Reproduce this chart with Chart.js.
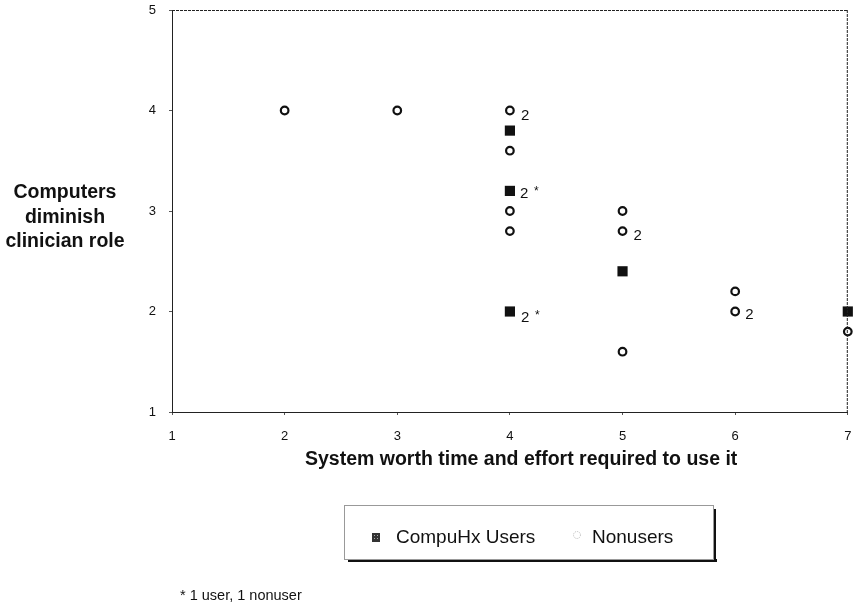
<!DOCTYPE html>
<html>
<head>
<meta charset="utf-8">
<script src="https://cdn.jsdelivr.net/npm/chart.js@4/dist/chart.umd.min.js"></script>
<style>
  html, body { margin: 0; padding: 0; background: #fff; }
  #wrap { position: relative; width: 855px; height: 607px; }
</style>
</head>
<body>
<div id="wrap"><canvas id="chart" width="855" height="607"></canvas></div>
<script>
// x = system worth time and effort, y = computers diminish clinician role
const userX = [4, 4, 4, 5, 7];
const userY = [3.8, 3.2, 2, 2.4, 2];
const nonuserX = [2, 3, 4, 4, 4, 4, 5, 5, 5, 6, 6, 7];
const nonuserY = [4, 4, 4, 3.6, 3, 2.8, 3, 2.8, 1.6, 2.2, 2, 1.8];

// count labels beside some points
const noteX = [4, 4, 4, 5, 6];
const noteY = [4, 3.2, 2, 2.8, 2];
const noteText = ["2", "2 *", "2 *", "2", "2"];

const xTicks = [1, 2, 3, 4, 5, 6, 7];
const yTicks = [1, 2, 3, 4, 5];
const seriesNames = ["CompuHx Users", "Nonusers"];
const yTitle = ["Computers", "diminish", "clinician role"];
const xTitle = "System worth time and effort required to use it";
const footnote = "* 1 user, 1 nonuser";

const FONT = "Arial, 'Liberation Sans', sans-serif";

// little offsets for the count labels (style only)
const noteShift = { "4,4": [11, 5], "4,3.2": [10, 3], "4,2": [11, 6], "5,2.8": [11, 5], "6,2": [10, 3] };

const pts = (xs, ys) => xs.map((x, i) => ({ x: x, y: ys[i] }));

const extras = {
  id: "extras",
  afterDraw(chart) {
    const ctx = chart.ctx;
    const a = chart.chartArea;
    const xs = chart.scales.x, ys = chart.scales.y;
    ctx.save();

    // dotted frame
    ctx.strokeStyle = "#222";
    ctx.lineWidth = 1;
    ctx.setLineDash([3, 1]);
    ctx.beginPath();
    ctx.moveTo(a.left, a.top + 0.5); ctx.lineTo(a.right, a.top + 0.5);
    ctx.moveTo(a.right - 0.5, a.top); ctx.lineTo(a.right - 0.5, a.bottom);
    ctx.stroke();
    ctx.setLineDash([]);

    // count labels
    ctx.fillStyle = "#111";
    ctx.textBaseline = "middle";
    ctx.textAlign = "left";
    noteText.forEach((t, i) => {
      const sh = noteShift[noteX[i] + "," + noteY[i]] || [10, 4];
      const px = xs.getPixelForValue(noteX[i]) + sh[0];
      const py = ys.getPixelForValue(noteY[i]) + sh[1];
      ctx.font = "15px " + FONT;
      ctx.fillText("2", px, py);
      if (t.indexOf("*") >= 0) {
        ctx.font = "12px " + FONT;
        ctx.fillText("*", px + 14, py - 2);
      }
    });

    // x title
    ctx.font = "bold 19.5px " + FONT;
    ctx.textAlign = "left";
    ctx.fillText(xTitle, 305, 460);

    // y title, horizontal
    ctx.font = "bold 19.5px " + FONT;
    ctx.textAlign = "center";
    yTitle.forEach((s, i) => ctx.fillText(s, 65, 193 + i * 24.5));

    // legend box
    const bx = 344, by = 505, bw = 369, bh = 54;
    ctx.fillStyle = "#111";
    ctx.fillRect(bx + 4, by + bh, bw, 3);
    ctx.fillRect(bx + bw, by + 4, 3, bh - 1);
    ctx.fillStyle = "#fff";
    ctx.fillRect(bx, by, bw, bh);
    ctx.strokeStyle = "#999";
    ctx.lineWidth = 1;
    ctx.strokeRect(bx + 0.5, by + 0.5, bw, bh);

    // legend markers
    ctx.fillStyle = "#333";
    ctx.fillRect(372, 533, 8, 9);
    ctx.fillStyle = "#aaa";
    ctx.fillRect(374, 535, 1, 1); ctx.fillRect(377, 535, 1, 1);
    ctx.fillRect(374, 538, 1, 1); ctx.fillRect(377, 538, 1, 1);
    ctx.strokeStyle = "#bbb";
    ctx.setLineDash([1, 1]);
    ctx.beginPath(); ctx.arc(577, 535, 3.5, 0, Math.PI * 2); ctx.stroke();
    ctx.setLineDash([]);

    ctx.fillStyle = "#111";
    ctx.font = "19px " + FONT;
    ctx.textAlign = "left";
    ctx.fillText(seriesNames[0], 396, 538);
    ctx.fillText(seriesNames[1], 592, 538);

    // footnote
    ctx.font = "14.5px " + FONT;
    ctx.fillText(footnote, 180, 596);
    ctx.restore();
  }
};

new Chart(document.getElementById("chart"), {
  type: "scatter",
  data: {
    datasets: [
      {
        label: seriesNames[1],
        data: pts(nonuserX, nonuserY),
        pointStyle: "circle",
        pointRadius: 3.8,
        pointBorderWidth: 2.2,
        pointBackgroundColor: "#fff",
        pointBorderColor: "#111",
        clip: false
      },
      {
        label: seriesNames[0],
        data: pts(userX, userY),
        pointStyle: "rect",
        pointRadius: 7.2,
        pointBorderWidth: 0,
        pointBackgroundColor: "#111",
        pointBorderColor: "#111",
        clip: false
      }
    ]
  },
  options: {
    responsive: false,
    animation: false,
    layout: { padding: { top: 10, right: 2, left: 0, bottom: 0 } },
    plugins: { legend: { display: false }, tooltip: { enabled: false } },
    scales: {
      x: {
        type: "linear",
        min: 1, max: 7,
        afterBuildTicks: s => { s.ticks = xTicks.map(v => ({ value: v })); },
        afterFit: s => { s.height = 195; s.paddingLeft = 0; s.paddingRight = 0; },
        grid: { drawOnChartArea: false, tickLength: 3, color: "#555" },
        border: { color: "#222", dash: [3, 1] },
        ticks: { color: "#111", padding: 14, font: { family: FONT, size: 13 } }
      },
      y: {
        type: "linear",
        min: 1, max: 5,
        afterBuildTicks: s => { s.ticks = yTicks.map(v => ({ value: v })); },
        afterFit: s => { s.width = 172; s.paddingTop = 0; s.paddingBottom = 0; },
        grid: { drawOnChartArea: false, tickLength: 3, color: "#555" },
        border: { color: "#222", dash: [3, 1] },
        ticks: { color: "#111", padding: 13, font: { family: FONT, size: 13 } }
      }
    }
  },
  plugins: [extras]
});
</script>
</body>
</html>
